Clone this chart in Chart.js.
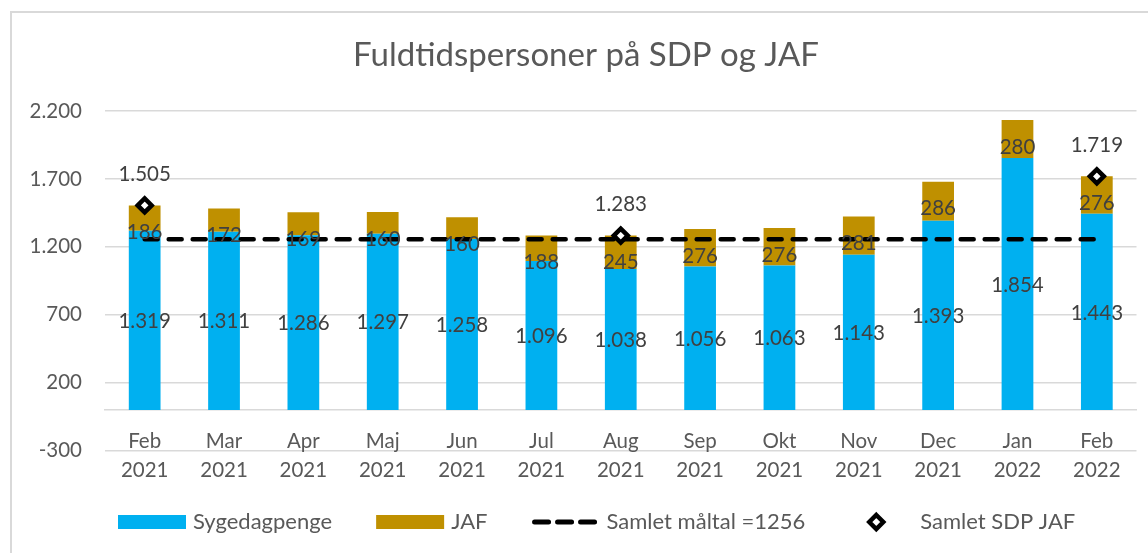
<!DOCTYPE html>
<html>
<head>
<meta charset="utf-8">
<script src="https://cdn.jsdelivr.net/npm/chart.js@4.4.1/dist/chart.umd.min.js"></script>
<style>
  html, body { margin: 0; padding: 0; background: #ffffff; }
  #wrap { position: relative; width: 1148px; height: 553px; }
</style>
</head>
<body>
<div id="wrap"><canvas id="c" width="1148" height="553"></canvas></div>
<script>
// ---- data ----
const categories = [
  ['Feb', '2021'], ['Mar', '2021'], ['Apr', '2021'], ['Maj', '2021'], ['Jun', '2021'],
  ['Jul', '2021'], ['Aug', '2021'], ['Sep', '2021'], ['Okt', '2021'], ['Nov', '2021'],
  ['Dec', '2021'], ['Jan', '2022'], ['Feb', '2022']
];
const sygedagpenge = [1319, 1311, 1286, 1297, 1258, 1096, 1038, 1056, 1063, 1143, 1393, 1854, 1443];
const jaf = [186, 172, 169, 160, 160, 188, 245, 276, 276, 281, 286, 280, 276];
const maltal = [1256, 1256, 1256, 1256, 1256, 1256, 1256, 1256, 1256, 1256, 1256, 1256, 1256];
const samletSdpJaf = [1505, null, null, null, null, null, 1283, null, null, null, null, null, 1719];
const yTicks = [-300, 200, 700, 1200, 1700, 2200];
const seriesNames = ['Sygedagpenge', 'JAF', 'Samlet måltal =1256', 'Samlet SDP JAF'];
const titleText = 'Fuldtidspersoner på SDP og JAF';

// ---- styling ----
const FONT = 'Lato, "Open Sans", sans-serif';
const BLUE = '#00B0F0';
const GOLD = '#BF9000';
const GRID = '#d9d9d9';
const TXT = '#595959';
const LBL = '#404040';

function fmt(v) {
  const s = Math.abs(v).toString().replace(/\B(?=(\d{3})+(?!\d))/g, '.');
  return (v < 0 ? '-' : '') + s;
}

function drawDiamond(ctx, cx, cy, r, bw) {
  ctx.save();
  ctx.beginPath();
  ctx.moveTo(cx, cy - r);
  ctx.lineTo(cx + r, cy);
  ctx.lineTo(cx, cy + r);
  ctx.lineTo(cx - r, cy);
  ctx.closePath();
  ctx.fillStyle = '#ffffff';
  ctx.fill();
  ctx.lineWidth = bw;
  ctx.strokeStyle = '#000000';
  ctx.lineJoin = 'miter';
  ctx.stroke();
  ctx.restore();
}

const decorPlugin = {
  id: 'decor',
  beforeDraw(chart) {
    const ctx = chart.ctx;
    ctx.save();
    ctx.fillStyle = '#ffffff';
    ctx.fillRect(0, 0, chart.width, chart.height);
    ctx.strokeStyle = GRID;
    ctx.lineWidth = 2;
    ctx.beginPath();
    ctx.moveTo(11, chart.height);
    ctx.lineTo(11, 12);
    ctx.lineTo(chart.width, 12);
    ctx.stroke();
    // title
    ctx.fillStyle = TXT;
    ctx.font = '33px ' + FONT;
    ctx.textAlign = 'center';
    ctx.textBaseline = 'alphabetic';
    ctx.fillText(titleText, 586, 66);
    ctx.restore();
  },
  afterDatasetsDraw(chart) {
    const ctx = chart.ctx;
    ctx.save();
    ctx.font = '20.5px ' + FONT;
    ctx.fillStyle = LBL;
    ctx.textAlign = 'center';
    ctx.textBaseline = 'middle';
    chart.getDatasetMeta(0).data.forEach((el, i) => {
      ctx.fillText(fmt(sygedagpenge[i]), el.x, (el.y + el.base) / 2 + 1);
    });
    chart.getDatasetMeta(1).data.forEach((el, i) => {
      ctx.fillText(fmt(jaf[i]), el.x, el.y + 27);
    });
    chart.getDatasetMeta(3).data.forEach((el, i) => {
      if (samletSdpJaf[i] != null) ctx.fillText(fmt(samletSdpJaf[i]), el.x, el.y - 31);
    });
    ctx.restore();
  },
  afterDraw(chart) {
    // legend
    const ctx = chart.ctx;
    ctx.save();
    ctx.font = '22px ' + FONT;
    ctx.textAlign = 'left';
    ctx.textBaseline = 'alphabetic';
    let x = 118;
    const boxTop = 515, boxH = 14, boxW = 68, base = 529, cy = 522;
    chart.data.datasets.forEach((ds, i) => {
      if (i < 2) {
        ctx.fillStyle = ds.backgroundColor;
        ctx.fillRect(x, boxTop, boxW, boxH);
      } else if (i === 2) {
        ctx.save();
        ctx.strokeStyle = '#000';
        ctx.lineWidth = 5;
        ctx.lineCap = 'round';
        ctx.setLineDash([14, 9]);
        ctx.beginPath();
        ctx.moveTo(x + 3, cy);
        ctx.lineTo(x + 66, cy);
        ctx.stroke();
        ctx.restore();
      } else {
        drawDiamond(ctx, x + boxW / 2 - 3, cy, 7, 4.5);
      }
      ctx.fillStyle = TXT;
      ctx.fillText(ds.label, x + 75, base);
      x += 75 + ctx.measureText(ds.label).width + (i === 2 ? 40 : 44);
    });
    ctx.restore();
  }
};

new Chart(document.getElementById('c'), {
  type: 'bar',
  data: {
    labels: categories,
    datasets: [
      { label: seriesNames[0], data: sygedagpenge, backgroundColor: BLUE, stack: 's', order: 2,
        barPercentage: 0.4, categoryPercentage: 1.0 },
      { label: seriesNames[1], data: jaf, backgroundColor: GOLD, stack: 's', order: 2,
        barPercentage: 0.4, categoryPercentage: 1.0 },
      { type: 'line', label: seriesNames[2], data: maltal, stack: 'm', order: 1,
        borderColor: '#000000', borderWidth: 4.5, borderDash: [13, 11], borderCapStyle: 'round',
        pointRadius: 0, pointHoverRadius: 0, fill: false, tension: 0 },
      { type: 'line', label: seriesNames[3], data: samletSdpJaf, stack: 't', order: 0,
        showLine: false, pointStyle: 'rectRot', pointRadius: 7, pointHoverRadius: 7,
        pointBorderWidth: 4.5, pointBackgroundColor: '#ffffff', pointBorderColor: '#000000' }
    ]
  },
  options: {
    responsive: false,
    animation: false,
    events: [],
    layout: { padding: { top: 111, left: 10, right: 10, bottom: 102.3 } },
    plugins: { legend: { display: false }, title: { display: false }, tooltip: { enabled: false } },
    scales: {
      x: {
        position: { y: 0 },
        grid: { display: false, drawTicks: false },
        border: { display: true, color: GRID, width: 1.5 },
        ticks: { color: TXT, font: { family: FONT, size: 20.5, lineHeight: 1.4 }, padding: 17,
                 maxRotation: 0, autoSkip: false }
      },
      y: {
        stacked: true,
        min: -300,
        max: 2200,
        afterBuildTicks(scale) { scale.ticks = yTicks.map(v => ({ value: v })); },
        afterFit(scale) { scale.width = 95; },
        ticks: { color: TXT, font: { family: FONT, size: 20.5 }, padding: 23,
                 callback: (v) => fmt(v) },
        grid: { color: GRID, lineWidth: 1.5, drawTicks: false },
        border: { display: false }
      }
    }
  },
  plugins: [decorPlugin]
});
</script>
</body>
</html>
